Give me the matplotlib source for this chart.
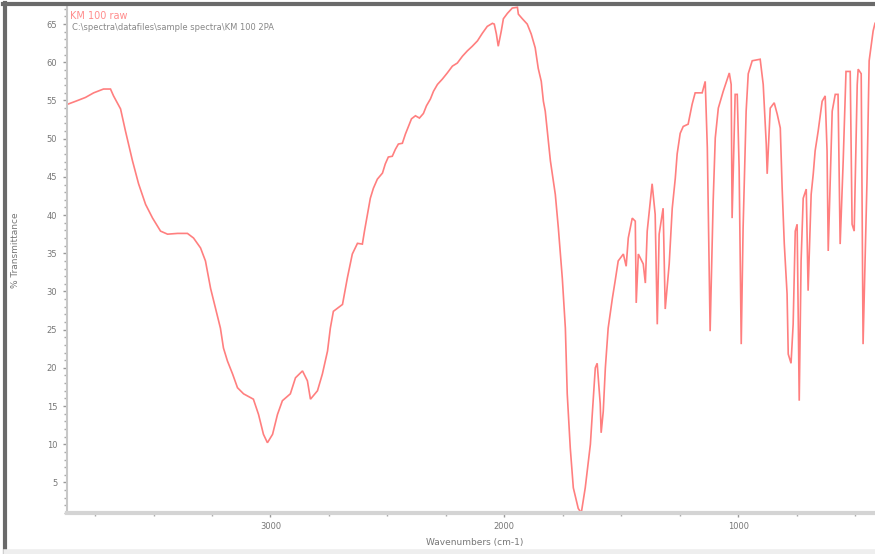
import matplotlib
matplotlib.use("Agg")
from matplotlib import pyplot as plt
from matplotlib.lines import Line2D
from matplotlib.ticker import MultipleLocator

# spectrum (wavenumber cm-1, % transmittance)
wavenumber = [
    3868, 3833, 3791, 3756, 3714, 3684, 3671, 3641, 3620, 3590,
    3564, 3534, 3504, 3470, 3440, 3397, 3355, 3329, 3299, 3278,
    3256, 3235, 3214, 3201, 3184, 3162, 3141, 3115, 3073, 3051,
    3030, 3013, 2991, 2970, 2949, 2915, 2893, 2863, 2842, 2829,
    2799, 2778, 2756, 2744, 2731, 2692, 2671, 2650, 2628, 2607,
    2598, 2585, 2573, 2560, 2543, 2521, 2509, 2496, 2479, 2466,
    2453, 2436, 2423, 2410, 2397, 2380, 2363, 2346, 2333, 2316,
    2303, 2286, 2265, 2244, 2222, 2201, 2179, 2158, 2137, 2115,
    2094, 2073, 2051, 2043, 2034, 2026, 2013, 2004, 1987, 1966,
    1944, 1940, 1923, 1902, 1885, 1868, 1855, 1842, 1833, 1825,
    1803, 1782, 1769, 1752, 1739, 1731, 1718, 1705, 1684, 1671,
    1654, 1632, 1624, 1611, 1603, 1590, 1586, 1577, 1568, 1556,
    1538, 1526, 1513, 1491, 1479, 1470, 1453, 1440, 1436, 1427,
    1406, 1397, 1389, 1368, 1355, 1346, 1338, 1321, 1312, 1295,
    1282, 1269, 1261, 1248, 1235, 1214, 1197, 1184, 1154, 1141,
    1132, 1120, 1107, 1098, 1085, 1064, 1038, 1030, 1026, 1013,
    1004, 996, 987, 979, 966, 957, 940, 906, 893, 880,
    876, 863, 846, 833, 820, 812, 803, 791, 786, 774,
    765, 756, 748, 739, 731, 722, 709, 701, 688, 679,
    671, 658, 641, 628, 620, 615, 598, 585, 573, 564,
    551, 539, 521, 513, 504, 491, 487, 474, 466, 449,
    440, 423, 415,
]
transmittance = [
    54.5, 54.9, 55.4, 56.0, 56.5, 56.5, 55.6, 53.9, 51.0, 47.1,
    44.1, 41.4, 39.6, 37.9, 37.5, 37.6, 37.6, 37.0, 35.7, 34.0,
    30.4, 27.8, 25.2, 22.6, 20.9, 19.2, 17.4, 16.6, 15.9, 13.9,
    11.3, 10.2, 11.3, 13.9, 15.7, 16.6, 18.7, 19.6, 18.3, 15.9,
    17.0, 19.2, 22.2, 25.2, 27.4, 28.3, 31.8, 34.9, 36.3, 36.2,
    37.9, 40.1, 42.2, 43.5, 44.7, 45.5, 46.7, 47.6, 47.7, 48.6,
    49.3, 49.4, 50.6, 51.6, 52.6, 53.0, 52.7, 53.3, 54.3, 55.2,
    56.2, 57.1, 57.8, 58.6, 59.5, 59.9, 60.8, 61.5, 62.1, 62.8,
    63.8, 64.7, 65.1, 65.0, 63.7, 62.1, 64.1, 65.7, 66.4, 67.1,
    67.2, 66.3, 65.7, 65.0, 63.7, 61.9, 59.2, 57.5, 54.9, 53.6,
    47.1, 42.7, 38.3, 31.7, 25.2, 16.6, 9.5, 4.3, 1.6, 1.0,
    4.3, 10.0, 13.9, 20.0, 20.6, 15.3, 11.5, 14.3, 20.0, 25.2,
    29.1, 31.4, 34.0, 34.9, 33.3, 37.0, 39.6, 39.2, 28.5, 34.9,
    33.6, 31.1, 37.9, 44.1, 40.1, 25.7, 37.5, 40.9, 27.7, 33.6,
    40.9, 44.8, 48.0, 50.7, 51.6, 51.9, 54.5, 56.0, 56.0, 57.5,
    48.8, 24.8, 41.8, 50.1, 54.0, 56.2, 58.6, 57.1, 39.6, 55.8,
    55.8, 46.2, 23.1, 38.3, 53.6, 58.5, 60.2, 60.4, 57.1, 49.3,
    45.4, 54.0, 54.7, 53.2, 51.4, 43.5, 36.3, 29.7, 21.8, 20.6,
    25.7, 37.9, 38.8, 15.7, 34.0, 42.2, 43.4, 30.1, 42.7, 45.4,
    48.4, 51.0, 54.9, 55.6, 48.4, 35.3, 53.6, 55.8, 55.8, 36.2,
    47.1, 58.8, 58.8, 38.8, 37.9, 57.1, 59.1, 58.5, 23.1, 44.8,
    60.2, 64.1, 65.1,
]

x_ticks = [3000, 2000, 1000]
y_ticks = list(range(5, 70, 5))

title = "KM 100 raw"
file_path = r"C:\spectra\datafiles\sample spectra\KM 100 2PA"

W, H = 875, 554
fig = plt.figure(figsize=(W / 100, H / 100), dpi=100)
fig.patch.set_facecolor("white")

# axes placed in pixel units of the reference
left, right, top, bottom = 67, 875, 5, 513
ax_w, ax_h = right - left, bottom - top
ax = fig.add_axes([left / W, 1 - bottom / H, ax_w / W, ax_h / H])

ax.plot(wavenumber, transmittance, color="#ff7f7f", lw=1.2, solid_joinstyle="miter")

ax.set_xlim(3870, 415)
ax.set_ylim(1.0, 67.5)

for s in ["top", "right"]:
    ax.spines[s].set_visible(False)
ax.spines["left"].set_color("#c8c8c8")
ax.spines["left"].set_linewidth(1.5)
ax.spines["bottom"].set_color("#d4d4d4")
ax.spines["bottom"].set_linewidth(3)

ax.set_xticks(x_ticks)
ax.xaxis.set_minor_locator(MultipleLocator(250))
ax.set_yticks(y_ticks)
ax.yaxis.set_minor_locator(MultipleLocator(1))
ax.tick_params(axis="both", which="major", labelsize=6, labelcolor="#777777",
               color="#999999", length=3, width=1)
ax.tick_params(axis="both", which="minor", color="#aaaaaa", length=2, width=1)
ax.tick_params(axis="y", pad=4)

ax.set_xlabel("Wavenumbers (cm-1)", fontsize=6.5, color="#777777")
ax.set_ylabel("% Transmittance", fontsize=6.5, color="#777777")
ax.xaxis.set_label_coords((475 - left) / ax_w, (bottom - 543) / ax_h)
ax.yaxis.set_label_coords((16 - left) / ax_w, (bottom - 250) / ax_h)
ax.xaxis.label.set_va("center")
ax.yaxis.label.set_va("center")

ax.text(70 / W, 1 - 16 / H, title, transform=fig.transFigure, fontsize=7,
        color="#ff8c8c", va="center", ha="left")
ax.text(72 / W, 1 - 28 / H, file_path, transform=fig.transFigure, fontsize=6,
        color="#888888", va="center", ha="left")

# window frame around the picture
fig.add_artist(Line2D([4.5 / W, 4.5 / W], [0, 1 - 3 / H], transform=fig.transFigure,
                      color="#6a6a6a", lw=3))
fig.add_artist(Line2D([3 / W, 1], [1 - 3.5 / H, 1 - 3.5 / H], transform=fig.transFigure,
                      color="#6a6a6a", lw=3))
fig.add_artist(Line2D([6 / W, 1], [2 / H, 2 / H], transform=fig.transFigure,
                      color="#eeeeee", lw=4))

fig.savefig("out.png", dpi=100)
